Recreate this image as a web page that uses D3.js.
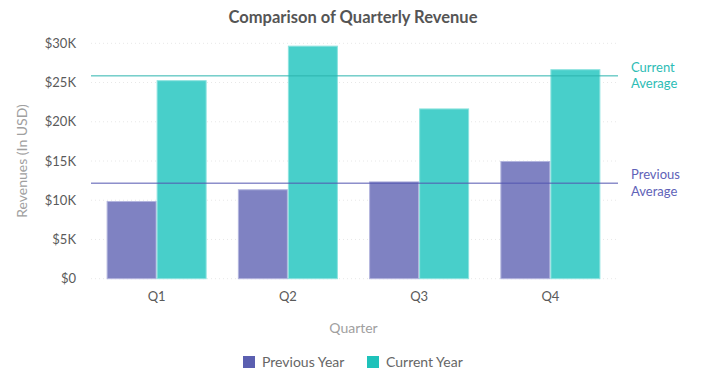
<!DOCTYPE html>
<html><head><meta charset="utf-8">
<script src="https://cdn.jsdelivr.net/npm/d3@7"></script>
<style>body{margin:0;background:#fff;}svg{display:block;font-family:Lato,"Open Sans",sans-serif;}</style>
</head><body><div id="chart"></div>
<script>
const quarters = ["Q1","Q2","Q3","Q4"];
const seriesNames = ["Previous Year","Current Year"];
const previousYear = [9900, 11400, 12400, 15000];
const currentYear = [25300, 29700, 21700, 26700];
const yTicks = [0,5000,10000,15000,20000,25000,30000];
const avgLabels = [["Current","Average"],["Previous","Average"]];

const W=703,H=382;
const m={left:91,right:87,top:43.3,bottom:103.3};
const svg=d3.select("#chart").append("svg").attr("width",W).attr("height",H);
const x=d3.scaleBand().domain(quarters).range([m.left,W-m.right]).paddingInner(0.238).paddingOuter(0.119);
const xs=d3.scaleBand().domain(seriesNames).range([0,x.bandwidth()]);
const y=d3.scaleLinear().domain([0,30000]).range([H-m.bottom,m.top]);
const fills=["#7f82c2","#48cfca"];
const strokes=["#b3b5de","#8de3df"];
const legendFill=["#5b5fb0","#1fc2ba"];

// grid
svg.append("g").selectAll("line").data(yTicks).join("line")
 .attr("x1",m.left).attr("x2",W-m.right).attr("y1",d=>y(d)).attr("y2",d=>y(d))
 .attr("stroke","#e8e8e8").attr("stroke-dasharray","1,3");

// y axis
const ya=svg.append("g").attr("transform",`translate(${m.left},0)`)
 .call(d3.axisLeft(y).tickValues(yTicks).tickSize(0).tickPadding(15).tickFormat(d=>d===0?"$0":"$"+d/1000+"K"));
ya.select(".domain").remove();
ya.selectAll("text").attr("fill","#5a5a5a").attr("font-size",13).attr("font-family","Lato,sans-serif");

// x axis
const xa=svg.append("g").attr("transform",`translate(0,${H-m.bottom})`)
 .call(d3.axisBottom(x).tickSize(0).tickPadding(13));
xa.select(".domain").remove();
xa.selectAll("text").attr("fill","#5a5a5a").attr("font-size",13).attr("font-family","Lato,sans-serif");

// bars
const data=quarters.map((q,i)=>({q,vals:[previousYear[i],currentYear[i]]}));
const g=svg.append("g").selectAll("g").data(data).join("g").attr("transform",d=>`translate(${x(d.q)},0)`);
g.selectAll("rect").data(d=>d.vals.map((v,j)=>({v,j}))).join("rect")
 .attr("x",d=>xs(seriesNames[d.j])+0.5).attr("width",xs.bandwidth()-1)
 .attr("y",d=>y(d.v)+0.5).attr("height",d=>y(0)-y(d.v)-0.5)
 .attr("fill",d=>fills[d.j]).attr("stroke",d=>strokes[d.j]).attr("stroke-width",1);

// average lines
const avgs=[d3.mean(currentYear),d3.mean(previousYear)];
const lineCol=["#2cb5ae","#5356b0"];
const labCol=["#2cbcb5","#6062b8"];
avgs.forEach((a,i)=>{
 svg.append("line").attr("x1",m.left).attr("x2",W-m.right+2).attr("y1",y(a)).attr("y2",y(a))
  .attr("stroke",lineCol[i]).attr("stroke-width",1);
 const t=svg.append("text").attr("x",631).attr("y",y(a)-4).attr("fill",labCol[i]).attr("font-size",13);
 avgLabels[i].forEach((s,k)=>t.append("tspan").attr("x",631).attr("dy",k?16.5:0).text(s));
});

// title
svg.append("text").attr("x",353).attr("y",23).attr("text-anchor","middle").attr("font-size",16.5)
 .attr("font-weight","bold").attr("fill","#555").text("Comparison of Quarterly Revenue");
// axis titles
svg.append("text").attr("transform",`translate(27,${(y(0)+y(30000))/2}) rotate(-90)`).attr("text-anchor","middle")
 .attr("font-size",14).attr("fill","#a0a0a0").text("Revenues (In USD)");
svg.append("text").attr("x",353.5).attr("y",333).attr("text-anchor","middle").attr("font-size",14)
 .attr("fill","#a0a0a0").text("Quarter");

// legend
const lx=[243,367];
seriesNames.forEach((s,i)=>{
 svg.append("rect").attr("x",lx[i]).attr("y",356).attr("width",12).attr("height",12).attr("fill",legendFill[i]);
 svg.append("text").attr("x",lx[i]+19).attr("y",367).attr("font-size",14).attr("fill","#666").text(s);
});
</script></body></html>
